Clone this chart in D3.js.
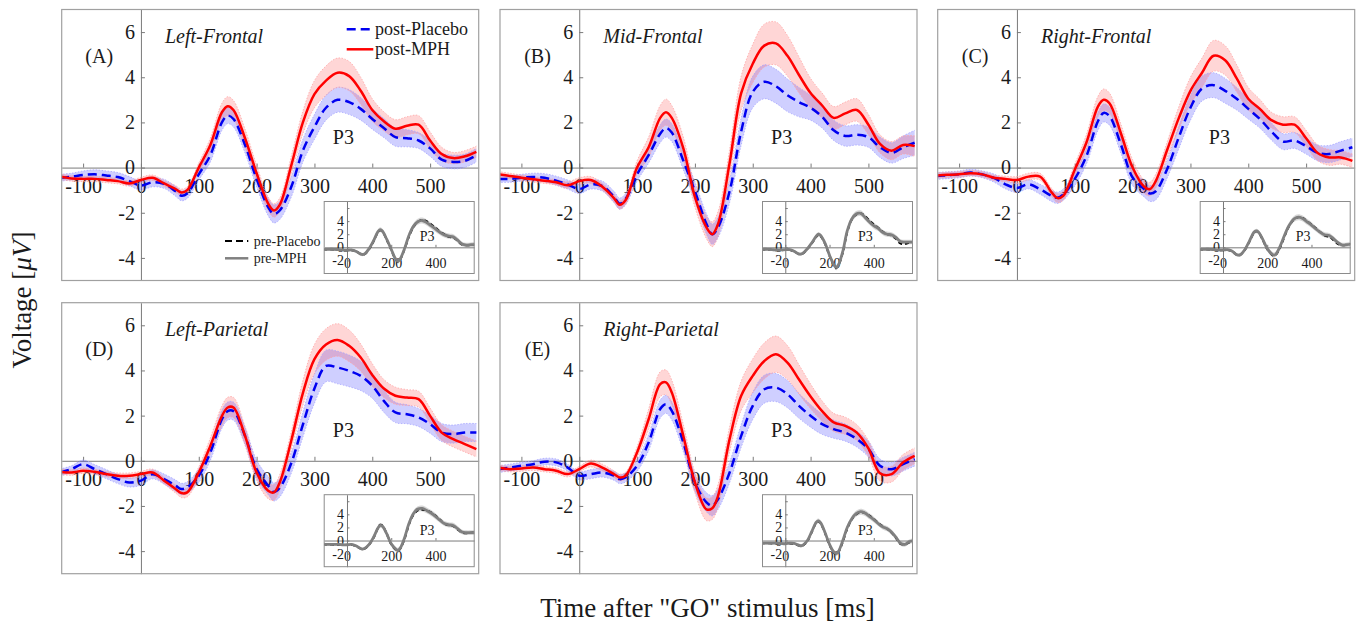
<!DOCTYPE html>
<html><head><meta charset="utf-8">
<script src="https://cdn.jsdelivr.net/npm/d3@7"></script>
<style>
body{margin:0;background:#fff}
svg{display:block;font-family:"Liberation Serif","Times New Roman",serif}
</style>
</head><body>
<svg id="chart" width="1359" height="628"></svg>
<script>
// ---------- data ----------
const T = [-140,-120,-100,-80,-60,-40,-20,0, 20,40,60,70,80, 100,120,140,150,160,180,200, 220,230,240,260,280,300, 320,340,360,380,400, 420,440,460,480,500, 520,540,560,580];
const xTicks = [-100,0,100,200,300,400,500];
const yTicks = [-4,-2,0,2,4,6];
const insetXTicks = [0,200,400];
const insetYTicks = [-2,0,2,4,6];
const panelLabels = ["(A)","(B)","(C)","(D)","(E)"];
const regionNames = ["Left-Frontal","Mid-Frontal","Right-Frontal","Left-Parietal","Right-Parietal"];
const legendMain = ["post-Placebo","post-MPH"];
const legendInset = ["pre-Placebo","pre-MPH"];

// post-Placebo (blue dashed) means
const postPlaceboA = [-0.45,-0.4,-0.33,-0.3,-0.35,-0.42,-0.6,-0.8, -0.65,-0.72,-1.05,-1.25,-1.15, -0.3,0.55,2.0,2.3,2.15,1.0,-0.5, -1.75,-2.05,-1.9,-0.85,0.75,1.8, 2.65,3.0,2.9,2.6,2.15, 1.75,1.35,1.3,1.2,0.85, 0.35,0.25,0.3,0.55];
const postPlaceboB = [-0.5,-0.5,-0.45,-0.42,-0.45,-0.58,-0.75,-0.95, -0.75,-0.82,-1.3,-1.6,-1.4, -0.3,0.55,1.5,1.75,1.55,0.3,-1.05, -2.5,-2.95,-2.65,-1.05,1.6,3.35, 3.8,3.6,3.2,2.9,2.65, 2.25,1.65,1.4,1.45,1.35, 0.9,0.65,0.9,1.1];
const postPlaceboC = [-0.37,-0.34,-0.3,-0.22,-0.3,-0.46,-0.74,-0.9, -0.74,-0.96,-1.25,-1.34,-1.2, -0.5,0.5,2.05,2.42,2.28,1.0,-0.44, -0.95,-1.15,-1.05,-0.05,1.35,2.65, 3.5,3.65,3.4,3.05,2.6, 2.15,1.6,1.15,1.2,0.95, 0.65,0.6,0.75,0.9];
const postPlaceboD = [-0.52,-0.37,-0.15,-0.37,-0.59,-0.81,-0.96,-0.88, -0.6,-0.81,-1.1,-1.25,-1.18, -0.66,0.37,1.84,2.2,2.2,1.1,-0.37, -1.1,-1.38,-1.2,-0.1,1.6,3.2, 4.2,4.13,3.98,3.76,3.32, 2.65,2.14,2.06,1.92,1.62, 1.25,1.18,1.25,1.25];
const postPlaceboE = [-0.37,-0.3,-0.22,-0.15,-0.04,-0.07,-0.3,-0.66, -0.59,-0.52,-0.66,-0.81,-0.74, -0.22,0.81,2.29,2.5,2.21,0.81,-0.96, -1.84,-1.99,-1.7,-0.52,1.1,2.43, 3.17,3.24,2.95,2.43,1.99, 1.62,1.4,1.25,0.96,0.52, -0.22,-0.37,-0.15,0.07];

// post-MPH (red solid) means
const postMPHA = [-0.4,-0.48,-0.5,-0.5,-0.55,-0.6,-0.7,-0.55, -0.45,-0.7,-0.95,-1.1,-1.0, 0.0,1.0,2.45,2.72,2.55,1.3,-0.25, -1.6,-1.9,-1.65,0.1,2.0,3.25, 3.85,4.2,4.05,3.4,2.55, 2.05,1.72,1.85,1.9,1.2, 0.6,0.42,0.5,0.7];
const postMPHB = [-0.3,-0.37,-0.45,-0.52,-0.58,-0.65,-0.78,-0.6, -0.55,-0.85,-1.35,-1.65,-1.45, 0.0,0.9,2.2,2.45,2.2,0.85,-1.3, -2.65,-2.95,-2.5,0.2,3.3,4.6, 5.4,5.5,4.95,4.1,3.3, 2.75,2.2,2.4,2.55,1.9, 1.05,0.75,1.0,0.95];
const postMPHC = [-0.35,-0.32,-0.3,-0.25,-0.3,-0.45,-0.5,-0.55, -0.4,-0.4,-1.1,-1.35,-1.25, -0.1,1.1,2.7,3.0,2.85,1.5,0.0, -0.85,-0.95,-0.6,0.8,2.2,3.4, 4.2,4.95,4.75,3.95,3.05, 2.6,2.1,1.9,1.9,1.3, 0.65,0.45,0.45,0.3];
const postMPHD = [-0.49,-0.52,-0.44,-0.49,-0.59,-0.66,-0.66,-0.59, -0.52,-0.88,-1.25,-1.43,-1.4, -0.52,0.66,1.98,2.36,2.36,1.1,-0.52, -1.33,-1.4,-0.96,0.9,3.0,4.5, 5.15,5.35,5.09,4.57,3.8, 3.2,2.88,2.8,2.73,1.99, 1.25,0.96,0.74,0.52];
const postMPHE = [-0.3,-0.37,-0.34,-0.3,-0.37,-0.44,-0.59,-0.37, -0.12,-0.3,-0.59,-0.74,-0.66, 0.37,1.84,3.39,3.47,3.02,1.1,-0.96, -2.15,-2.1,-1.55,0.96,2.88,3.76, 4.42,4.72,4.35,3.6,2.85, 2.2,1.7,1.55,1.25,0.55, -0.55,-0.59,-0.07,0.22];

// standard-error half widths (bands)
const sePlaceboA = [0.15,0.15,0.18,0.2,0.2,0.2,0.2,0.2, 0.2,0.2,0.22,0.22,0.22, 0.25,0.3,0.35,0.35,0.35,0.35,0.35, 0.38,0.4,0.4,0.45,0.5,0.55, 0.55,0.55,0.55,0.5,0.45, 0.42,0.4,0.38,0.35,0.35, 0.3,0.3,0.3,0.3];
const sePlaceboB = [0.15,0.15,0.15,0.17,0.18,0.2,0.2,0.2, 0.2,0.22,0.25,0.25,0.25, 0.3,0.35,0.4,0.4,0.4,0.4,0.42, 0.45,0.45,0.45,0.5,0.6,0.7, 0.75,0.75,0.72,0.65,0.55, 0.5,0.45,0.45,0.45,0.45, 0.45,0.45,0.5,0.55];
const sePlaceboC = [0.15,0.15,0.15,0.15,0.15,0.18,0.2,0.2, 0.2,0.22,0.25,0.25,0.25, 0.3,0.35,0.4,0.4,0.4,0.38,0.35, 0.35,0.35,0.38,0.4,0.5,0.55, 0.55,0.55,0.55,0.5,0.45, 0.4,0.38,0.35,0.35,0.35, 0.35,0.38,0.4,0.4];
const sePlaceboD = [0.15,0.15,0.18,0.2,0.2,0.2,0.2,0.2, 0.2,0.22,0.25,0.25,0.25, 0.3,0.35,0.4,0.4,0.4,0.4,0.4, 0.4,0.4,0.4,0.45,0.55,0.65, 0.7,0.72,0.7,0.65,0.55, 0.5,0.45,0.42,0.4,0.4, 0.4,0.4,0.4,0.4];
const sePlaceboE = [0.15,0.15,0.15,0.15,0.15,0.15,0.15,0.18, 0.2,0.2,0.2,0.2,0.2, 0.25,0.35,0.4,0.4,0.4,0.4,0.4, 0.42,0.45,0.45,0.45,0.5,0.6, 0.62,0.62,0.6,0.55,0.5, 0.45,0.4,0.38,0.35,0.35, 0.3,0.3,0.3,0.3];
const seMPHA = [0.12,0.12,0.12,0.12,0.12,0.12,0.12,0.12, 0.12,0.13,0.15,0.15,0.15, 0.2,0.3,0.4,0.42,0.42,0.4,0.35, 0.3,0.3,0.3,0.4,0.5,0.6, 0.65,0.65,0.65,0.6,0.5, 0.42,0.4,0.4,0.4,0.38, 0.3,0.25,0.25,0.25];
const seMPHB = [0.12,0.12,0.12,0.12,0.12,0.12,0.15,0.15, 0.15,0.15,0.18,0.18,0.2, 0.3,0.45,0.55,0.58,0.55,0.5,0.45, 0.5,0.55,0.55,0.6,0.75,0.85, 0.95,0.95,0.9,0.8,0.65, 0.55,0.5,0.5,0.5,0.45, 0.4,0.4,0.4,0.45];
const seMPHC = [0.12,0.12,0.12,0.12,0.12,0.12,0.12,0.15, 0.15,0.15,0.18,0.2,0.2, 0.25,0.35,0.45,0.48,0.45,0.4,0.35, 0.3,0.3,0.3,0.35,0.5,0.6, 0.65,0.68,0.65,0.6,0.5, 0.42,0.35,0.35,0.35,0.35, 0.35,0.35,0.3,0.3];
const seMPHD = [0.12,0.12,0.12,0.12,0.12,0.12,0.12,0.12, 0.15,0.15,0.18,0.2,0.2, 0.25,0.35,0.45,0.45,0.45,0.4,0.35, 0.35,0.35,0.35,0.4,0.55,0.65, 0.7,0.72,0.7,0.6,0.5, 0.4,0.38,0.35,0.35,0.35, 0.35,0.35,0.35,0.35];
const seMPHE = [0.12,0.12,0.12,0.12,0.12,0.12,0.12,0.12, 0.15,0.15,0.15,0.15,0.15, 0.25,0.45,0.55,0.55,0.55,0.5,0.45, 0.5,0.5,0.5,0.55,0.65,0.75, 0.8,0.8,0.75,0.65,0.55, 0.45,0.4,0.38,0.35,0.35, 0.35,0.35,0.35,0.35];

// inset: pre-treatment curves
const prePlaceboA = [-0.3,-0.35,-0.35,-0.3,-0.35,-0.4,-0.45,-0.5, -0.45,-0.6,-1.0,-1.15,-1.05, -0.3,0.9,2.3,2.6,2.45,1.1,-0.4, -1.9,-2.2,-1.9,-0.3,1.6,3.1, 3.9,4.2,4.0,3.5,3.0, 2.4,2.0,1.6,1.5,1.0, 0.4,0.3,0.35,0.4];
const prePlaceboB = [-0.3,-0.35,-0.35,-0.35,-0.4,-0.45,-0.45,-0.4, -0.4,-0.65,-1.0,-1.1,-0.95, -0.25,0.6,1.6,1.9,1.7,0.5,-1.3, -2.8,-3.2,-2.8,-0.8,2.3,4.2, 5.0,5.2,4.8,4.1,3.5, 3.0,2.4,2.0,1.8,1.3, 0.6,0.5,0.7,0.8];
const prePlaceboC = [-0.35,-0.35,-0.35,-0.3,-0.35,-0.4,-0.45,-0.45, -0.4,-0.6,-1.1,-1.25,-1.1, -0.35,0.9,2.2,2.45,2.3,1.1,-0.3, -1.1,-1.3,-1.1,0.1,1.8,3.3, 4.2,4.6,4.5,4.0,3.5, 2.9,2.3,1.8,1.6,1.1, 0.5,0.3,0.4,0.5];
const prePlaceboD = [-0.6,-0.6,-0.6,-0.6,-0.65,-0.65,-0.65,-0.7, -0.65,-0.85,-1.2,-1.3,-1.25, -0.65,0.4,1.9,2.4,2.3,1.0,-0.6, -1.4,-1.6,-1.3,0.2,2.4,3.9, 4.6,4.7,4.6,4.3,3.8, 3.2,2.6,2.3,2.2,1.7, 1.2,1.1,1.2,1.2];
const prePlaceboE = [-0.4,-0.4,-0.4,-0.4,-0.45,-0.45,-0.5,-0.5, -0.45,-0.5,-0.75,-0.85,-0.75, -0.1,1.3,2.7,2.9,2.6,1.1,-0.7, -1.9,-2.1,-1.8,-0.2,1.8,3.2, 4.0,4.3,4.2,3.8,3.3, 2.7,2.2,1.8,1.2,0.4, -0.5,-0.6,-0.3,0.0];
const preMPHA = [-0.3,-0.3,-0.3,-0.3,-0.3,-0.35,-0.4,-0.45, -0.4,-0.6,-1.0,-1.1,-1.0, -0.2,1.0,2.4,2.7,2.5,1.2,-0.3, -1.8,-2.1,-1.8,-0.2,1.8,3.2, 3.9,4.1,3.8,3.3,2.8, 2.3,1.9,1.7,1.6,1.1, 0.5,0.35,0.4,0.45];
const preMPHB = [-0.3,-0.3,-0.3,-0.3,-0.35,-0.4,-0.4,-0.35, -0.35,-0.6,-1.0,-1.05,-0.9, -0.2,0.7,1.7,2.0,1.8,0.6,-1.2, -2.7,-3.1,-2.7,-0.6,2.5,4.3, 5.1,5.2,4.6,3.9,3.3, 2.9,2.3,2.0,1.9,1.5, 0.9,0.8,0.8,0.8];
const preMPHC = [-0.3,-0.3,-0.3,-0.3,-0.3,-0.35,-0.4,-0.4, -0.35,-0.55,-1.1,-1.2,-1.1, -0.3,1.0,2.3,2.5,2.35,1.2,-0.2, -1.0,-1.2,-1.0,0.3,2.0,3.4, 4.3,4.6,4.4,3.9,3.4, 2.8,2.3,1.9,1.8,1.3, 0.7,0.35,0.4,0.5];
const preMPHD = [-0.6,-0.6,-0.6,-0.6,-0.6,-0.6,-0.65,-0.65, -0.6,-0.8,-1.2,-1.3,-1.2, -0.6,0.5,1.9,2.3,2.2,1.0,-0.5, -1.3,-1.5,-1.2,0.4,2.6,4.1, 4.8,4.9,4.6,4.2,3.7, 3.1,2.6,2.4,2.3,1.8, 1.3,1.2,1.2,1.2];
const preMPHE = [-0.4,-0.4,-0.4,-0.4,-0.4,-0.4,-0.45,-0.5, -0.4,-0.45,-0.7,-0.8,-0.7, 0.0,1.4,2.8,3.0,2.7,1.2,-0.6, -1.8,-2.0,-1.7,0.0,2.0,3.3, 4.1,4.4,4.2,3.7,3.2, 2.6,2.1,1.8,1.3,0.5, -0.4,-0.6,-0.2,0.0];
const sePreMPH = [0.2,0.2,0.2,0.2,0.2,0.2,0.2,0.2, 0.2,0.2,0.25,0.25,0.25, 0.3,0.35,0.35,0.35,0.35,0.35,0.35, 0.4,0.4,0.4,0.4,0.45,0.45, 0.45,0.45,0.45,0.45,0.45, 0.4,0.4,0.4,0.4,0.4, 0.35,0.35,0.35,0.35];

const panels = [
  {placebo:postPlaceboA, mph:postMPHA, seP:sePlaceboA, seM:seMPHA, preP:prePlaceboA, preM:preMPHA},
  {placebo:postPlaceboB, mph:postMPHB, seP:sePlaceboB, seM:seMPHB, preP:prePlaceboB, preM:preMPHB},
  {placebo:postPlaceboC, mph:postMPHC, seP:sePlaceboC, seM:seMPHC, preP:prePlaceboC, preM:preMPHC},
  {placebo:postPlaceboD, mph:postMPHD, seP:sePlaceboD, seM:seMPHD, preP:prePlaceboD, preM:preMPHD},
  {placebo:postPlaceboE, mph:postMPHE, seP:sePlaceboE, seM:seMPHE, preP:prePlaceboE, preM:preMPHE}
];

// ---------- layout ----------
const svg = d3.select("#chart");
const defs = svg.append("defs");
const W = 417, H = 271;
const colX = [61.7, 500, 937.7], rowY = [9.5, 302.7];
const IW = 150, IH = 72, IX = 262.5, IY = 192;
const x = d3.scaleLinear().domain([-137, 584]).range([0, W]);
const y = d3.scaleLinear().domain([-5, 7]).range([H, 0]);
const ix = d3.scaleLinear().domain([-103, 575]).range([0, IW]);
const iy = d3.scaleLinear().domain([-4, 7]).range([IH, 0]);
const curve = d3.curveCatmullRom.alpha(0.5);
const TXT = "#1a1a1a", AX = "#7a7a7a";

function styleAxis(g, size){
  g.attr("font-family", null).attr("font-size", null);
  g.selectAll(".domain").attr("stroke", AX).attr("stroke-width", 1);
  g.selectAll(".tick line").attr("stroke", AX).attr("stroke-width", 1);
  g.selectAll(".tick text").attr("fill", TXT).style("font-size", size + "px");
}

panels.forEach((p, i) => {
  const g = svg.append("g").attr("transform", `translate(${colX[i % 3]},${rowY[Math.floor(i / 3)]})`);
  defs.append("clipPath").attr("id", "cp" + i).append("rect").attr("width", W).attr("height", H);
  g.append("rect").attr("width", W).attr("height", H).attr("fill", "#fff");

  const gx = g.append("g").attr("transform", `translate(0,${y(0)})`)
    .call(d3.axisBottom(x).tickValues(xTicks).tickSizeInner(-4).tickSizeOuter(0).tickPadding(11).tickFormat(d => String(d)));
  styleAxis(gx, 20);
  const gy = g.append("g").attr("transform", `translate(${x(0)},0)`)
    .call(d3.axisLeft(y).tickValues(yTicks).tickSizeInner(-4).tickSizeOuter(0).tickPadding(6).tickFormat(d => String(d)));
  styleAxis(gy, 20);

  const plot = g.append("g").attr("clip-path", `url(#cp${i})`);
  const series = [
    {m: p.placebo, se: p.seP, fill: "rgba(0,0,255,0.19)", edge: "#a6a6ff", stroke: "#0000f0", dash: "9,5"},
    {m: p.mph, se: p.seM, fill: "rgba(255,0,0,0.16)", edge: "#ffa6a6", stroke: "#ff0000", dash: null}
  ];
  series.forEach(s => {
    const area = d3.area().x((d, k) => x(T[k])).y0((d, k) => y(d - s.se[k])).y1((d, k) => y(d + s.se[k])).curve(curve);
    plot.append("path").attr("d", area(s.m)).attr("fill", s.fill).attr("stroke", "none");
  });
  series.forEach(s => {
    [1, -1].forEach(sg => {
      const ln = d3.line().x((d, k) => x(T[k])).y((d, k) => y(d + sg * s.se[k])).curve(curve);
      plot.append("path").attr("d", ln(s.m)).attr("fill", "none").attr("stroke", s.edge)
        .attr("stroke-width", 0.8).attr("stroke-dasharray", "1.5,1.5");
    });
  });
  series.forEach(s => {
    const ln = d3.line().x((d, k) => x(T[k])).y(d => y(d)).curve(curve);
    plot.append("path").attr("d", ln(s.m)).attr("fill", "none").attr("stroke", s.stroke)
      .attr("stroke-width", 2.5).attr("stroke-dasharray", s.dash);
  });

  // texts
  g.append("text").attr("x", 103.3).attr("y", 26.5).attr("dominant-baseline", "central")
    .attr("font-style", "italic").attr("font-size", 20).attr("fill", TXT).text(regionNames[i]);
  g.append("text").attr("x", 37.5).attr("y", 46.5).attr("dominant-baseline", "central").attr("text-anchor", "middle")
    .attr("font-size", 20).attr("fill", TXT).text(panelLabels[i]);
  g.append("text").attr("x", x(350)).attr("y", y(1.35)).attr("dominant-baseline", "central").attr("text-anchor", "middle")
    .attr("font-size", 20).attr("fill", TXT).text("P3");

  // inset
  const ig = g.append("g").attr("transform", `translate(${IX},${IY})`);
  defs.append("clipPath").attr("id", "ci" + i).append("rect").attr("width", IW).attr("height", IH);
  ig.append("rect").attr("width", IW).attr("height", IH).attr("fill", "#fff");
  const igx = ig.append("g").attr("transform", `translate(0,${iy(0)})`)
    .call(d3.axisBottom(ix).tickValues(insetXTicks).tickSizeInner(-2.5).tickSizeOuter(0).tickPadding(11).tickFormat(d => String(d)));
  styleAxis(igx, 14);
  const igy = ig.append("g").attr("transform", `translate(${ix(0)},0)`)
    .call(d3.axisLeft(iy).tickValues(insetYTicks).tickSizeInner(-2.5).tickSizeOuter(0).tickPadding(3).tickFormat(d => d === 6 ? "" : String(d)));
  styleAxis(igy, 14);
  const iplot = ig.append("g").attr("clip-path", `url(#ci${i})`);
  const iarea = d3.area().x((d, k) => ix(T[k])).y0((d, k) => iy(d - sePreMPH[k])).y1((d, k) => iy(d + sePreMPH[k])).curve(curve);
  iplot.append("path").attr("d", iarea(p.preM)).attr("fill", "rgba(120,120,120,0.3)");
  const iline = d3.line().x((d, k) => ix(T[k])).y(d => iy(d)).curve(curve);
  iplot.append("path").attr("d", iline(p.preP)).attr("fill", "none").attr("stroke", "#000")
    .attr("stroke-width", 2).attr("stroke-dasharray", "4,3");
  iplot.append("path").attr("d", iline(p.preM)).attr("fill", "none").attr("stroke", "#808080").attr("stroke-width", 2.8);
  ig.append("text").attr("x", ix(362)).attr("y", iy(1.6)).attr("dominant-baseline", "central").attr("text-anchor", "middle")
    .attr("font-size", 14).attr("fill", TXT).text("P3");
  ig.append("rect").attr("width", IW).attr("height", IH).attr("fill", "none").attr("stroke", "#8c8c8c").attr("stroke-width", 1);

  // legends (panel A only)
  if (i === 0) {
    const lg = g.append("g");
    const ly = [19.8, 39.8];
    lg.append("line").attr("x1", 285).attr("x2", 311.6).attr("y1", ly[0]).attr("y2", ly[0])
      .attr("stroke", "#0000f0").attr("stroke-width", 2.5).attr("stroke-dasharray", "9,5");
    lg.append("line").attr("x1", 285).attr("x2", 311.6).attr("y1", ly[1]).attr("y2", ly[1])
      .attr("stroke", "#ff0000").attr("stroke-width", 2.5);
    legendMain.forEach((t, k) => lg.append("text").attr("x", 313.3).attr("y", ly[k]).attr("dominant-baseline", "central")
      .attr("font-size", 18).attr("fill", TXT).text(t));
    const ly2 = [231.5, 248.8];
    lg.append("line").attr("x1", 163.3).attr("x2", 186.6).attr("y1", ly2[0]).attr("y2", ly2[0])
      .attr("stroke", "#000").attr("stroke-width", 2).attr("stroke-dasharray", "7,4");
    lg.append("line").attr("x1", 163.3).attr("x2", 186.6).attr("y1", ly2[1]).attr("y2", ly2[1])
      .attr("stroke", "#808080").attr("stroke-width", 2.5);
    legendInset.forEach((t, k) => lg.append("text").attr("x", 192).attr("y", ly2[k]).attr("dominant-baseline", "central")
      .attr("font-size", 14).attr("fill", TXT).text(t));
  }

  g.append("rect").attr("width", W).attr("height", H).attr("fill", "none").attr("stroke", "#a0a0a0").attr("stroke-width", 1.2);
});

// axis titles
svg.append("text").attr("x", 707.5).attr("y", 617).attr("text-anchor", "middle")
  .attr("font-size", 27).attr("fill", TXT).text('Time after "GO" stimulus [ms]');
const yt = svg.append("text").attr("transform", "translate(31,300) rotate(-90)").attr("text-anchor", "middle")
  .attr("font-size", 27).attr("fill", TXT);
yt.append("tspan").text("Voltage [");
yt.append("tspan").attr("font-style", "italic").text("\u03BCV");
yt.append("tspan").text("]");
</script>
</body></html>
